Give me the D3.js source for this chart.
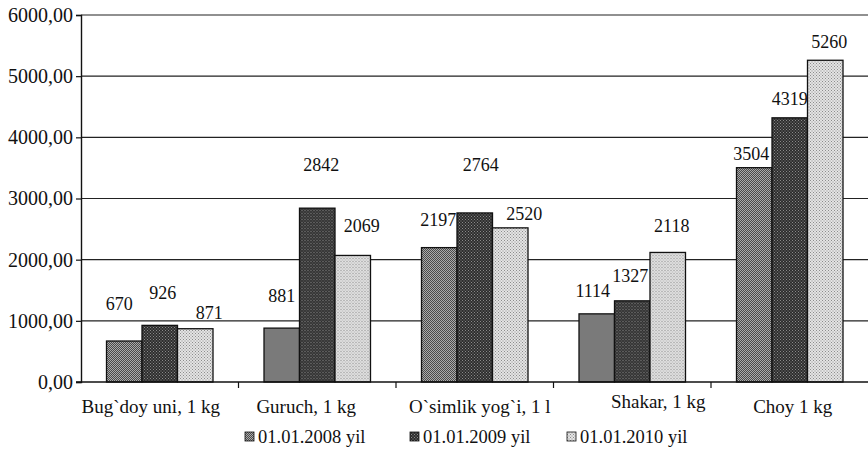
<!DOCTYPE html>
<html>
<head>
<meta charset="utf-8">
<script src="https://cdn.jsdelivr.net/npm/d3@7"></script>
<style>
  body { margin: 0; background: #fff; }
  svg, svg text { font-family: "Liberation Serif", Tinos, "Times New Roman", Times, "DejaVu Serif", serif !important; }
  svg { display: block; }
</style>
</head>
<body>
<svg id="chart" width="868" height="452"></svg>
<script>
// dannye
const categories = ["Bug`doy uni, 1 kg", "Guruch, 1 kg", "O`simlik yog`i, 1 l", "Shakar, 1 kg", "Choy  1 kg"];
const seriesNames = ["01.01.2008 yil", "01.01.2009 yil", "01.01.2010 yil"];
const values2008 = [670, 881, 2197, 1114, 3504];
const values2009 = [926, 2842, 2764, 1327, 4319];
const values2010 = [871, 2069, 2520, 2118, 5260];
const yTicks = [0, 1000, 2000, 3000, 4000, 5000, 6000];

// label placement (pixel shifts, as in the original)
const labelShiftX = [[-5, 0, -1, -4, -3], [3, 4, 6, -2, 0], [14, 9, 14, 4, 4]];
const labelShiftY = [[-31, -26, -22, -17, -8], [-26, -37, -42, -19, -13], [-10, -23, -8, -20, -12]];
const catShiftX = [-9, -11, 5, 26, 3];
const catShiftY = [0, 0, 0, -5, 0];

const allValues = [values2008, values2009, values2010];

const svg = d3.select("#chart");
const mLeft = 81, mRight = 868.5, mTop = 15, mBottom = 382;

// patterns
const defs = svg.append("defs");
function pattern(id, base, dot, step) {
  const p = defs.append("pattern").attr("id", id).attr("patternUnits", "userSpaceOnUse")
    .attr("width", step).attr("height", step);
  p.append("rect").attr("width", step).attr("height", step).attr("fill", base);
  p.append("rect").attr("x", 0).attr("y", 0).attr("width", 1).attr("height", 1).attr("fill", dot);
  p.append("rect").attr("x", step / 2).attr("y", step / 2).attr("width", 1).attr("height", 1).attr("fill", dot);
}
pattern("p0", "#ababab", "#4a4a4a", 2);
pattern("p1", "#2e2e2e", "#8a8a8a", 3);
pattern("p2", "#e4e4e4", "#8c8c8c", 3);
const fills = ["url(#p0)", "url(#p1)", "url(#p2)"];

const x0 = d3.scaleBand().domain(categories).range([mLeft, mRight]);
const groupW = 106.5;
const x1 = d3.scaleBand().domain(d3.range(3))
  .range([(x0.bandwidth() - groupW) / 2, (x0.bandwidth() + groupW) / 2]);
const y = d3.scaleLinear().domain([0, 6000]).range([mBottom, mTop]);

const locale = d3.formatLocale({ decimal: ",", thousands: "", grouping: [3], currency: ["", ""] });
const fmt = locale.format(".2f");

// gridlines
svg.append("g").selectAll("line").data(yTicks.filter(d => d > 0)).enter().append("line")
  .attr("x1", mLeft).attr("x2", 868).attr("y1", d => y(d)).attr("y2", d => y(d))
  .attr("stroke", "#222").attr("stroke-width", 1.2);

// y axis
const yAxis = svg.append("g").attr("transform", `translate(${mLeft},0)`)
  .call(d3.axisLeft(y).tickValues(yTicks).tickFormat(fmt).tickSize(5).tickPadding(3));
yAxis.attr("font-family", null);
yAxis.select(".domain").attr("stroke", "#111").attr("stroke-width", 1.4);
yAxis.selectAll(".tick line").attr("stroke", "#111").attr("stroke-width", 1.2);
yAxis.selectAll("text").attr("font-size", 20).attr("fill", "#111");

// bars
categories.forEach((c, i) => {
  const g = svg.append("g").attr("transform", `translate(${x0(c)},0)`);
  allValues.forEach((vals, j) => {
    g.append("rect")
      .attr("x", x1(j)).attr("y", y(vals[i]))
      .attr("width", x1.bandwidth()).attr("height", y(0) - y(vals[i]))
      .attr("fill", fills[j]).attr("stroke", "#111").attr("stroke-width", 1.3);
  });
});

// data labels
categories.forEach((c, i) => {
  allValues.forEach((vals, j) => {
    svg.append("text")
      .attr("x", x0(c) + x1(j) + x1.bandwidth() / 2 + labelShiftX[j][i])
      .attr("y", y(vals[i]) + labelShiftY[j][i])
      .attr("text-anchor", "middle").attr("font-size", 18).attr("fill", "#111")
      .text(vals[i]);
  });
});

// x axis
const xAxis = svg.append("g").attr("transform", `translate(0,${mBottom})`);
xAxis.append("line").attr("x1", mLeft - 5).attr("x2", 868).attr("stroke", "#111").attr("stroke-width", 1.4);
xAxis.selectAll(".tk").data(categories.slice(1)).enter().append("line")
  .attr("x1", d => x0(d)).attr("x2", d => x0(d)).attr("y1", 0).attr("y2", 6)
  .attr("stroke", "#111").attr("stroke-width", 1.2);
xAxis.selectAll(".lbl").data(categories).enter().append("text")
  .attr("x", (d, i) => x0(d) + x0.bandwidth() / 2 + catShiftX[i])
  .attr("y", (d, i) => 31 + catShiftY[i])
  .attr("text-anchor", "middle").attr("font-size", 19).attr("fill", "#111")
  .text(d => d);

// legend
const legendX = [245, 410, 567];
const legend = svg.append("g").attr("transform", "translate(0,437)");
seriesNames.forEach((s, j) => {
  legend.append("rect").attr("x", legendX[j]).attr("y", -5).attr("width", 9).attr("height", 9)
    .attr("fill", fills[j]).attr("stroke", "#111").attr("stroke-width", 0.8);
  legend.append("text").attr("x", legendX[j] + 13).attr("y", 6)
    .attr("font-size", 18.5).attr("fill", "#111").text(s);
});
</script>
</body>
</html>
